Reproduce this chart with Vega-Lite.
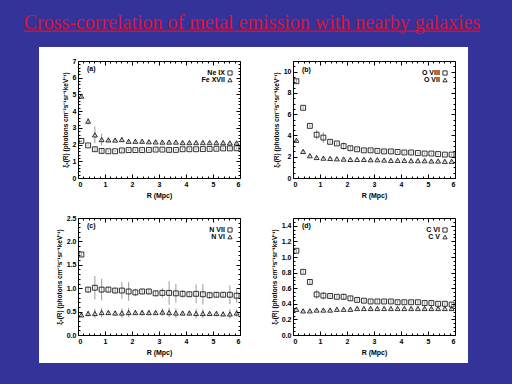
{
"$schema": "https://vega.github.io/schema/vega-lite/v6.json",
"background": "#333399",
"padding": {"left": 23, "top": 0, "right": 33, "bottom": 21},
"bounds": "flush",
"spacing": 27,
"config": {
  "view": {"stroke": "black", "strokeWidth": 1},
  "axis": {"grid": false, "domain": false, "tickColor": "black", "tickWidth": 1, "tickSize": -4,
    "labelColor": "black", "labelFont": "Liberation Sans", "labelFontSize": 7, "labelFontWeight": "bold", "labelPadding": 6,
    "labelOverlap": false, "titleFont": "Liberation Sans", "titleFontSize": 7, "titleFontWeight": "bold", "titleColor": "black"},
  "text": {"font": "Liberation Sans", "fontSize": 7, "fontWeight": "bold", "color": "black"},
  "point": {"stroke": "black", "fill": "transparent"}
},
"datasets": {
"a": [
{"r":0.125,"v":2.22,"e":0.06,"ion":"Ne IX"},{"r":0.375,"v":1.95,"e":0.06,"ion":"Ne IX"},{"r":0.625,"v":1.72,"e":0.12,"ion":"Ne IX"},{"r":0.875,"v":1.62,"e":0.12,"ion":"Ne IX"},
{"r":1.125,"v":1.6,"e":0.06,"ion":"Ne IX"},{"r":1.375,"v":1.6,"e":0.06,"ion":"Ne IX"},{"r":1.625,"v":1.65,"e":0.1,"ion":"Ne IX"},{"r":1.875,"v":1.67,"e":0.06,"ion":"Ne IX"},
{"r":2.125,"v":1.67,"e":0.06,"ion":"Ne IX"},{"r":2.375,"v":1.67,"e":0.06,"ion":"Ne IX"},{"r":2.625,"v":1.68,"e":0.06,"ion":"Ne IX"},{"r":2.875,"v":1.7,"e":0.06,"ion":"Ne IX"},
{"r":3.125,"v":1.7,"e":0.06,"ion":"Ne IX"},{"r":3.375,"v":1.68,"e":0.12,"ion":"Ne IX"},{"r":3.625,"v":1.68,"e":0.06,"ion":"Ne IX"},{"r":3.875,"v":1.72,"e":0.06,"ion":"Ne IX"},
{"r":4.125,"v":1.72,"e":0.06,"ion":"Ne IX"},{"r":4.375,"v":1.72,"e":0.06,"ion":"Ne IX"},{"r":4.625,"v":1.73,"e":0.06,"ion":"Ne IX"},{"r":4.875,"v":1.74,"e":0.06,"ion":"Ne IX"},
{"r":5.125,"v":1.75,"e":0.06,"ion":"Ne IX"},{"r":5.375,"v":1.77,"e":0.06,"ion":"Ne IX"},{"r":5.625,"v":1.77,"e":0.06,"ion":"Ne IX"},{"r":5.875,"v":1.78,"e":0.06,"ion":"Ne IX"},
{"r":0.125,"v":4.9,"e":0.12,"ion":"Fe XVII"},{"r":0.375,"v":3.4,"e":0.2,"ion":"Fe XVII"},{"r":0.625,"v":2.58,"e":0.5,"ion":"Fe XVII"},{"r":0.875,"v":2.3,"e":0.35,"ion":"Fe XVII"},
{"r":1.125,"v":2.28,"e":0.12,"ion":"Fe XVII"},{"r":1.375,"v":2.27,"e":0.1,"ion":"Fe XVII"},{"r":1.625,"v":2.3,"e":0.15,"ion":"Fe XVII"},{"r":1.875,"v":2.2,"e":0.1,"ion":"Fe XVII"},
{"r":2.125,"v":2.2,"e":0.1,"ion":"Fe XVII"},{"r":2.375,"v":2.2,"e":0.1,"ion":"Fe XVII"},{"r":2.625,"v":2.17,"e":0.1,"ion":"Fe XVII"},{"r":2.875,"v":2.16,"e":0.1,"ion":"Fe XVII"},
{"r":3.125,"v":2.15,"e":0.1,"ion":"Fe XVII"},{"r":3.375,"v":2.15,"e":0.1,"ion":"Fe XVII"},{"r":3.625,"v":2.15,"e":0.08,"ion":"Fe XVII"},{"r":3.875,"v":2.12,"e":0.08,"ion":"Fe XVII"},
{"r":4.125,"v":2.12,"e":0.08,"ion":"Fe XVII"},{"r":4.375,"v":2.12,"e":0.08,"ion":"Fe XVII"},{"r":4.625,"v":2.12,"e":0.08,"ion":"Fe XVII"},{"r":4.875,"v":2.12,"e":0.08,"ion":"Fe XVII"},
{"r":5.125,"v":2.12,"e":0.08,"ion":"Fe XVII"},{"r":5.375,"v":2.12,"e":0.08,"ion":"Fe XVII"},{"r":5.625,"v":2.1,"e":0.08,"ion":"Fe XVII"},{"r":5.875,"v":2.1,"e":0.08,"ion":"Fe XVII"}
],
"b": [
{"r":0.125,"v":9.1,"e":0.2,"ion":"O VIII"},{"r":0.375,"v":6.6,"e":0.15,"ion":"O VIII"},{"r":0.625,"v":4.9,"e":0.15,"ion":"O VIII"},{"r":0.875,"v":4.07,"e":0.45,"ion":"O VIII"},
{"r":1.125,"v":3.8,"e":0.5,"ion":"O VIII"},{"r":1.375,"v":3.4,"e":0.15,"ion":"O VIII"},{"r":1.625,"v":3.25,"e":0.15,"ion":"O VIII"},{"r":1.875,"v":3.0,"e":0.35,"ion":"O VIII"},
{"r":2.125,"v":2.8,"e":0.2,"ion":"O VIII"},{"r":2.375,"v":2.7,"e":0.12,"ion":"O VIII"},{"r":2.625,"v":2.6,"e":0.12,"ion":"O VIII"},{"r":2.875,"v":2.6,"e":0.12,"ion":"O VIII"},
{"r":3.125,"v":2.55,"e":0.12,"ion":"O VIII"},{"r":3.375,"v":2.5,"e":0.12,"ion":"O VIII"},{"r":3.625,"v":2.5,"e":0.12,"ion":"O VIII"},{"r":3.875,"v":2.45,"e":0.1,"ion":"O VIII"},
{"r":4.125,"v":2.4,"e":0.1,"ion":"O VIII"},{"r":4.375,"v":2.4,"e":0.1,"ion":"O VIII"},{"r":4.625,"v":2.35,"e":0.1,"ion":"O VIII"},{"r":4.875,"v":2.3,"e":0.1,"ion":"O VIII"},
{"r":5.125,"v":2.3,"e":0.1,"ion":"O VIII"},{"r":5.375,"v":2.25,"e":0.1,"ion":"O VIII"},{"r":5.625,"v":2.2,"e":0.1,"ion":"O VIII"},{"r":5.875,"v":2.2,"e":0.1,"ion":"O VIII"},
{"r":0.125,"v":3.55,"e":0.15,"ion":"O VII"},{"r":0.375,"v":2.5,"e":0.12,"ion":"O VII"},{"r":0.625,"v":2.1,"e":0.1,"ion":"O VII"},{"r":0.875,"v":1.93,"e":0.12,"ion":"O VII"},
{"r":1.125,"v":1.87,"e":0.1,"ion":"O VII"},{"r":1.375,"v":1.84,"e":0.08,"ion":"O VII"},{"r":1.625,"v":1.81,"e":0.08,"ion":"O VII"},{"r":1.875,"v":1.78,"e":0.08,"ion":"O VII"},
{"r":2.125,"v":1.75,"e":0.08,"ion":"O VII"},{"r":2.375,"v":1.75,"e":0.08,"ion":"O VII"},{"r":2.625,"v":1.75,"e":0.08,"ion":"O VII"},{"r":2.875,"v":1.72,"e":0.08,"ion":"O VII"},
{"r":3.125,"v":1.72,"e":0.08,"ion":"O VII"},{"r":3.375,"v":1.69,"e":0.08,"ion":"O VII"},{"r":3.625,"v":1.66,"e":0.08,"ion":"O VII"},{"r":3.875,"v":1.66,"e":0.08,"ion":"O VII"},
{"r":4.125,"v":1.66,"e":0.08,"ion":"O VII"},{"r":4.375,"v":1.63,"e":0.08,"ion":"O VII"},{"r":4.625,"v":1.63,"e":0.08,"ion":"O VII"},{"r":4.875,"v":1.63,"e":0.08,"ion":"O VII"},
{"r":5.125,"v":1.6,"e":0.08,"ion":"O VII"},{"r":5.375,"v":1.6,"e":0.08,"ion":"O VII"},{"r":5.625,"v":1.57,"e":0.08,"ion":"O VII"},{"r":5.875,"v":1.57,"e":0.08,"ion":"O VII"}
],
"c": [
{"r":0.125,"v":1.72,"e":0.04,"ion":"N VII"},{"r":0.375,"v":0.97,"e":0.06,"ion":"N VII"},{"r":0.625,"v":1.01,"e":0.25,"ion":"N VII"},{"r":0.875,"v":0.97,"e":0.23,"ion":"N VII"},
{"r":1.125,"v":0.97,"e":0.06,"ion":"N VII"},{"r":1.375,"v":0.95,"e":0.06,"ion":"N VII"},{"r":1.625,"v":0.95,"e":0.18,"ion":"N VII"},{"r":1.875,"v":0.93,"e":0.2,"ion":"N VII"},
{"r":2.125,"v":0.91,"e":0.08,"ion":"N VII"},{"r":2.375,"v":0.93,"e":0.06,"ion":"N VII"},{"r":2.625,"v":0.93,"e":0.06,"ion":"N VII"},{"r":2.875,"v":0.89,"e":0.06,"ion":"N VII"},
{"r":3.125,"v":0.9,"e":0.1,"ion":"N VII"},{"r":3.375,"v":0.9,"e":0.25,"ion":"N VII"},{"r":3.625,"v":0.89,"e":0.2,"ion":"N VII"},{"r":3.875,"v":0.88,"e":0.08,"ion":"N VII"},
{"r":4.125,"v":0.87,"e":0.06,"ion":"N VII"},{"r":4.375,"v":0.88,"e":0.2,"ion":"N VII"},{"r":4.625,"v":0.87,"e":0.22,"ion":"N VII"},{"r":4.875,"v":0.85,"e":0.08,"ion":"N VII"},
{"r":5.125,"v":0.86,"e":0.06,"ion":"N VII"},{"r":5.375,"v":0.86,"e":0.06,"ion":"N VII"},{"r":5.625,"v":0.86,"e":0.2,"ion":"N VII"},{"r":5.875,"v":0.84,"e":0.15,"ion":"N VII"},
{"r":0.125,"v":0.43,"e":0.04,"ion":"N VI"},{"r":0.375,"v":0.46,"e":0.06,"ion":"N VI"},{"r":0.625,"v":0.46,"e":0.1,"ion":"N VI"},{"r":0.875,"v":0.48,"e":0.1,"ion":"N VI"},
{"r":1.125,"v":0.48,"e":0.05,"ion":"N VI"},{"r":1.375,"v":0.47,"e":0.05,"ion":"N VI"},{"r":1.625,"v":0.47,"e":0.1,"ion":"N VI"},{"r":1.875,"v":0.48,"e":0.1,"ion":"N VI"},
{"r":2.125,"v":0.48,"e":0.05,"ion":"N VI"},{"r":2.375,"v":0.48,"e":0.05,"ion":"N VI"},{"r":2.625,"v":0.48,"e":0.05,"ion":"N VI"},{"r":2.875,"v":0.48,"e":0.05,"ion":"N VI"},
{"r":3.125,"v":0.49,"e":0.08,"ion":"N VI"},{"r":3.375,"v":0.48,"e":0.1,"ion":"N VI"},{"r":3.625,"v":0.47,"e":0.1,"ion":"N VI"},{"r":3.875,"v":0.47,"e":0.05,"ion":"N VI"},
{"r":4.125,"v":0.47,"e":0.05,"ion":"N VI"},{"r":4.375,"v":0.46,"e":0.1,"ion":"N VI"},{"r":4.625,"v":0.46,"e":0.1,"ion":"N VI"},{"r":4.875,"v":0.46,"e":0.05,"ion":"N VI"},
{"r":5.125,"v":0.46,"e":0.05,"ion":"N VI"},{"r":5.375,"v":0.45,"e":0.05,"ion":"N VI"},{"r":5.625,"v":0.45,"e":0.1,"ion":"N VI"},{"r":5.875,"v":0.47,"e":0.08,"ion":"N VI"}
],
"d": [
{"r":0.125,"v":1.08,"e":0.02,"ion":"C VI"},{"r":0.375,"v":0.81,"e":0.02,"ion":"C VI"},{"r":0.625,"v":0.68,"e":0.03,"ion":"C VI"},{"r":0.875,"v":0.52,"e":0.06,"ion":"C VI"},
{"r":1.125,"v":0.505,"e":0.05,"ion":"C VI"},{"r":1.375,"v":0.5,"e":0.02,"ion":"C VI"},{"r":1.625,"v":0.49,"e":0.02,"ion":"C VI"},{"r":1.875,"v":0.49,"e":0.04,"ion":"C VI"},
{"r":2.125,"v":0.47,"e":0.03,"ion":"C VI"},{"r":2.375,"v":0.45,"e":0.02,"ion":"C VI"},{"r":2.625,"v":0.44,"e":0.02,"ion":"C VI"},{"r":2.875,"v":0.43,"e":0.02,"ion":"C VI"},
{"r":3.125,"v":0.43,"e":0.02,"ion":"C VI"},{"r":3.375,"v":0.43,"e":0.02,"ion":"C VI"},{"r":3.625,"v":0.43,"e":0.02,"ion":"C VI"},{"r":3.875,"v":0.42,"e":0.02,"ion":"C VI"},
{"r":4.125,"v":0.42,"e":0.02,"ion":"C VI"},{"r":4.375,"v":0.42,"e":0.02,"ion":"C VI"},{"r":4.625,"v":0.42,"e":0.02,"ion":"C VI"},{"r":4.875,"v":0.41,"e":0.02,"ion":"C VI"},
{"r":5.125,"v":0.41,"e":0.02,"ion":"C VI"},{"r":5.375,"v":0.4,"e":0.02,"ion":"C VI"},{"r":5.625,"v":0.4,"e":0.02,"ion":"C VI"},{"r":5.875,"v":0.39,"e":0.02,"ion":"C VI"},
{"r":0.125,"v":0.33,"e":0.015,"ion":"C V"},{"r":0.375,"v":0.31,"e":0.015,"ion":"C V"},{"r":0.625,"v":0.31,"e":0.015,"ion":"C V"},{"r":0.875,"v":0.32,"e":0.015,"ion":"C V"},
{"r":1.125,"v":0.32,"e":0.015,"ion":"C V"},{"r":1.375,"v":0.32,"e":0.015,"ion":"C V"},{"r":1.625,"v":0.33,"e":0.015,"ion":"C V"},{"r":1.875,"v":0.33,"e":0.015,"ion":"C V"},
{"r":2.125,"v":0.33,"e":0.015,"ion":"C V"},{"r":2.375,"v":0.34,"e":0.015,"ion":"C V"},{"r":2.625,"v":0.34,"e":0.015,"ion":"C V"},{"r":2.875,"v":0.34,"e":0.015,"ion":"C V"},
{"r":3.125,"v":0.34,"e":0.015,"ion":"C V"},{"r":3.375,"v":0.34,"e":0.015,"ion":"C V"},{"r":3.625,"v":0.34,"e":0.015,"ion":"C V"},{"r":3.875,"v":0.34,"e":0.015,"ion":"C V"},
{"r":4.125,"v":0.34,"e":0.015,"ion":"C V"},{"r":4.375,"v":0.34,"e":0.015,"ion":"C V"},{"r":4.625,"v":0.34,"e":0.015,"ion":"C V"},{"r":4.875,"v":0.34,"e":0.015,"ion":"C V"},
{"r":5.125,"v":0.34,"e":0.015,"ion":"C V"},{"r":5.375,"v":0.34,"e":0.015,"ion":"C V"},{"r":5.625,"v":0.34,"e":0.015,"ion":"C V"},{"r":5.875,"v":0.34,"e":0.015,"ion":"C V"}
]
},
"vconcat": [
{
  "width": 377, "height": 34,
  "view": {"stroke": null},
  "data": {"values": [{}]},
  "layer": [
    {"mark": {"type": "rect", "fill": "white"},
     "encoding": {
       "x": {"datum": -0.1034, "type": "quantitative", "scale": {"domain": [0, 1], "nice": false}, "axis": null},
       "x2": {"datum": 1.0345},
       "y": {"datum": -0.382, "type": "quantitative", "scale": {"domain": [0, 1], "nice": false}, "axis": null},
       "y2": {"datum": -9.676}}},
    {"mark": {"type": "text", "font": "Liberation Serif", "fontSize": 20, "fontWeight": "normal", "color": "#dc1237", "align": "center", "baseline": "alphabetic"},
     "encoding": {
       "x": {"datum": 0.4615, "type": "quantitative", "scale": {"domain": [0, 1], "nice": false}, "axis": null},
       "y": {"datum": 0.156, "type": "quantitative", "scale": {"domain": [0, 1], "nice": false}, "axis": null},
       "text": {"value": "Cross-correlation of metal emission with nearby galaxies"}}},
    {"mark": {"type": "rule", "color": "#dc1237", "strokeWidth": 1.3},
     "encoding": {
       "x": {"datum": -0.1432, "type": "quantitative", "scale": {"domain": [0, 1], "nice": false}, "axis": null},
       "x2": {"datum": 1.0663},
       "y": {"datum": 0.085, "type": "quantitative", "scale": {"domain": [0, 1], "nice": false}, "axis": null}}}
  ]
},
{
  "columns": 2,
  "bounds": "flush",
  "spacing": {"row": 40, "column": 53},
  "concat": [
  {
    "width": 162, "height": 117,
    "data": {"name": "a"},
    "resolve": {"axis": {"x": "independent", "y": "independent"}},
    "layer": [
      {"mark": {"type": "errorbar", "color": "#9a9a9a", "thickness": 1},
       "encoding": {
         "x": {"field": "r", "type": "quantitative", "scale": {"domain": [0, 6], "nice": false}, "axis": null},
         "y": {"field": "v", "type": "quantitative", "scale": {"domain": [0, 7], "nice": false}, "axis": null},
         "yError": {"field": "e"}}},
      {"mark": {"type": "point", "opacity": 0},
       "encoding": {
         "x": {"field": "r", "type": "quantitative", "scale": {"domain": [0, 6], "nice": false}, "axis": {"orient": "top", "labels": false, "title": null, "values": [0, 1, 2, 3, 4, 5, 6]}},
         "y": {"field": "v", "type": "quantitative", "scale": {"domain": [0, 7], "nice": false}, "axis": {"orient": "right", "labels": false, "title": null, "values": [0, 1, 2, 3, 4, 5, 6, 7]}}}},
      {"mark": {"type": "point", "opacity": 0},
       "encoding": {
         "x": {"field": "r", "type": "quantitative", "scale": {"domain": [0, 6], "nice": false}, "axis": {"orient": "bottom", "labels": false, "title": null, "tickSize": -2, "values": [0.2,0.4,0.6,0.8,1.2,1.4,1.6,1.8,2.2,2.4,2.6,2.8,3.2,3.4,3.6,3.8,4.2,4.4,4.6,4.8,5.2,5.4,5.6,5.8]}},
         "y": {"field": "v", "type": "quantitative", "scale": {"domain": [0, 7], "nice": false}, "axis": {"orient": "left", "labels": false, "title": null, "tickSize": -2, "values": [0.2,0.4,0.6,0.8,1.2,1.4,1.6,1.8,2.2,2.4,2.6,2.8,3.2,3.4,3.6,3.8,4.2,4.4,4.6,4.8,5.2,5.4,5.6,5.8,6.2,6.4,6.6,6.8]}}}},
      {"mark": {"type": "point", "opacity": 0},
       "encoding": {
         "x": {"field": "r", "type": "quantitative", "scale": {"domain": [0, 6], "nice": false}, "axis": {"orient": "top", "labels": false, "title": null, "tickSize": -2, "values": [0.2,0.4,0.6,0.8,1.2,1.4,1.6,1.8,2.2,2.4,2.6,2.8,3.2,3.4,3.6,3.8,4.2,4.4,4.6,4.8,5.2,5.4,5.6,5.8]}},
         "y": {"field": "v", "type": "quantitative", "scale": {"domain": [0, 7], "nice": false}, "axis": {"orient": "right", "labels": false, "title": null, "tickSize": -2, "values": [0.2,0.4,0.6,0.8,1.2,1.4,1.6,1.8,2.2,2.4,2.6,2.8,3.2,3.4,3.6,3.8,4.2,4.4,4.6,4.8,5.2,5.4,5.6,5.8,6.2,6.4,6.6,6.8]}}}},
      {"mark": {"type": "point", "filled": false, "color": "black", "stroke": "black", "strokeWidth": 0.8, "size": 24, "opacity": 1},
       "encoding": {
         "x": {"field": "r", "type": "quantitative", "scale": {"domain": [0, 6], "nice": false}, "axis": {"title": "R (Mpc)", "values": [0, 1, 2, 3, 4, 5, 6]}},
         "y": {"field": "v", "type": "quantitative", "scale": {"domain": [0, 7], "nice": false}, "axis": {"title": "ξₓ(R) (photons cm⁻²s⁻¹sr⁻¹keV⁻¹)", "titleFontSize": 6.5, "values": [0, 1, 2, 3, 4, 5, 6, 7]}},
         "shape": {"field": "ion", "type": "nominal", "scale": {"domain": ["Ne IX", "Fe XVII"], "range": ["square", "triangle-up"]}, "legend": null}}},
      {"data": {"values": [{}]}, "mark": {"type": "text", "align": "left", "baseline": "middle"},
       "encoding": {
         "x": {"datum": 0.33, "type": "quantitative", "scale": {"domain": [0, 6], "nice": false}, "axis": null},
         "y": {"datum": 6.52, "type": "quantitative", "scale": {"domain": [0, 7], "nice": false}, "axis": null},
         "text": {"value": "(a)"}}},
      {"data": {"values": [{}]}, "mark": {"type": "text", "align": "right", "baseline": "middle"},
       "encoding": {
         "x": {"datum": 5.44, "type": "quantitative", "scale": {"domain": [0, 6], "nice": false}, "axis": null},
         "y": {"datum": 6.282, "type": "quantitative", "scale": {"domain": [0, 7], "nice": false}, "axis": null},
         "text": {"value": "Ne IX"}}},
      {"data": {"values": [{}]}, "mark": {"type": "text", "align": "right", "baseline": "middle"},
       "encoding": {
         "x": {"datum": 5.44, "type": "quantitative", "scale": {"domain": [0, 6], "nice": false}, "axis": null},
         "y": {"datum": 5.863, "type": "quantitative", "scale": {"domain": [0, 7], "nice": false}, "axis": null},
         "text": {"value": "Fe XVII"}}},
      {"data": {"values": [{}]}, "mark": {"type": "point", "shape": "square", "filled": false, "color": "black", "stroke": "black", "fill": "transparent", "strokeWidth": 0.8, "size": 18, "opacity": 1},
       "encoding": {
         "x": {"datum": 5.63, "type": "quantitative", "scale": {"domain": [0, 6], "nice": false}, "axis": null},
         "y": {"datum": 6.282, "type": "quantitative", "scale": {"domain": [0, 7], "nice": false}, "axis": null}}},
      {"data": {"values": [{}]}, "mark": {"type": "point", "shape": "triangle-up", "filled": false, "color": "black", "stroke": "black", "fill": "transparent", "strokeWidth": 0.8, "size": 18, "opacity": 1},
       "encoding": {
         "x": {"datum": 5.63, "type": "quantitative", "scale": {"domain": [0, 6], "nice": false}, "axis": null},
         "y": {"datum": 5.863, "type": "quantitative", "scale": {"domain": [0, 7], "nice": false}, "axis": null}}}
    ]
  },
  {
    "width": 162, "height": 117,
    "data": {"name": "b"},
    "resolve": {"axis": {"x": "independent", "y": "independent"}},
    "layer": [
      {"mark": {"type": "errorbar", "color": "#9a9a9a", "thickness": 1},
       "encoding": {
         "x": {"field": "r", "type": "quantitative", "scale": {"domain": [0, 6], "nice": false}, "axis": null},
         "y": {"field": "v", "type": "quantitative", "scale": {"domain": [0, 11], "nice": false}, "axis": null},
         "yError": {"field": "e"}}},
      {"mark": {"type": "point", "opacity": 0},
       "encoding": {
         "x": {"field": "r", "type": "quantitative", "scale": {"domain": [0, 6], "nice": false}, "axis": {"orient": "top", "labels": false, "title": null, "values": [0, 1, 2, 3, 4, 5, 6]}},
         "y": {"field": "v", "type": "quantitative", "scale": {"domain": [0, 11], "nice": false}, "axis": {"orient": "right", "labels": false, "title": null, "values": [0, 2, 4, 6, 8, 10]}}}},
      {"mark": {"type": "point", "opacity": 0},
       "encoding": {
         "x": {"field": "r", "type": "quantitative", "scale": {"domain": [0, 6], "nice": false}, "axis": {"orient": "bottom", "labels": false, "title": null, "tickSize": -2, "values": [0.2,0.4,0.6,0.8,1.2,1.4,1.6,1.8,2.2,2.4,2.6,2.8,3.2,3.4,3.6,3.8,4.2,4.4,4.6,4.8,5.2,5.4,5.6,5.8]}},
         "y": {"field": "v", "type": "quantitative", "scale": {"domain": [0, 11], "nice": false}, "axis": {"orient": "left", "labels": false, "title": null, "tickSize": -2, "values": [0.5,1,1.5,2.5,3,3.5,4.5,5,5.5,6.5,7,7.5,8.5,9,9.5,10.5]}}}},
      {"mark": {"type": "point", "opacity": 0},
       "encoding": {
         "x": {"field": "r", "type": "quantitative", "scale": {"domain": [0, 6], "nice": false}, "axis": {"orient": "top", "labels": false, "title": null, "tickSize": -2, "values": [0.2,0.4,0.6,0.8,1.2,1.4,1.6,1.8,2.2,2.4,2.6,2.8,3.2,3.4,3.6,3.8,4.2,4.4,4.6,4.8,5.2,5.4,5.6,5.8]}},
         "y": {"field": "v", "type": "quantitative", "scale": {"domain": [0, 11], "nice": false}, "axis": {"orient": "right", "labels": false, "title": null, "tickSize": -2, "values": [0.5,1,1.5,2.5,3,3.5,4.5,5,5.5,6.5,7,7.5,8.5,9,9.5,10.5]}}}},
      {"mark": {"type": "point", "filled": false, "color": "black", "stroke": "black", "strokeWidth": 0.8, "size": 24, "opacity": 1},
       "encoding": {
         "x": {"field": "r", "type": "quantitative", "scale": {"domain": [0, 6], "nice": false}, "axis": {"title": "R (Mpc)", "values": [0, 1, 2, 3, 4, 5, 6]}},
         "y": {"field": "v", "type": "quantitative", "scale": {"domain": [0, 11], "nice": false}, "axis": {"title": "ξₓ(R) (photons cm⁻²s⁻¹sr⁻¹keV⁻¹)", "titleFontSize": 6.5, "values": [0, 2, 4, 6, 8, 10]}},
         "shape": {"field": "ion", "type": "nominal", "scale": {"domain": ["O VIII", "O VII"], "range": ["square", "triangle-up"]}, "legend": null}}},
      {"data": {"values": [{}]}, "mark": {"type": "text", "align": "left", "baseline": "middle"},
       "encoding": {
         "x": {"datum": 0.33, "type": "quantitative", "scale": {"domain": [0, 6], "nice": false}, "axis": null},
         "y": {"datum": 10.15, "type": "quantitative", "scale": {"domain": [0, 11], "nice": false}, "axis": null},
         "text": {"value": "(b)"}}},
      {"data": {"values": [{}]}, "mark": {"type": "text", "align": "right", "baseline": "middle"},
       "encoding": {
         "x": {"datum": 5.44, "type": "quantitative", "scale": {"domain": [0, 6], "nice": false}, "axis": null},
         "y": {"datum": 9.872, "type": "quantitative", "scale": {"domain": [0, 11], "nice": false}, "axis": null},
         "text": {"value": "O VIII"}}},
      {"data": {"values": [{}]}, "mark": {"type": "text", "align": "right", "baseline": "middle"},
       "encoding": {
         "x": {"datum": 5.44, "type": "quantitative", "scale": {"domain": [0, 6], "nice": false}, "axis": null},
         "y": {"datum": 9.214, "type": "quantitative", "scale": {"domain": [0, 11], "nice": false}, "axis": null},
         "text": {"value": "O VII"}}},
      {"data": {"values": [{}]}, "mark": {"type": "point", "shape": "square", "filled": false, "color": "black", "stroke": "black", "fill": "transparent", "strokeWidth": 0.8, "size": 18, "opacity": 1},
       "encoding": {
         "x": {"datum": 5.63, "type": "quantitative", "scale": {"domain": [0, 6], "nice": false}, "axis": null},
         "y": {"datum": 9.872, "type": "quantitative", "scale": {"domain": [0, 11], "nice": false}, "axis": null}}},
      {"data": {"values": [{}]}, "mark": {"type": "point", "shape": "triangle-up", "filled": false, "color": "black", "stroke": "black", "fill": "transparent", "strokeWidth": 0.8, "size": 18, "opacity": 1},
       "encoding": {
         "x": {"datum": 5.63, "type": "quantitative", "scale": {"domain": [0, 6], "nice": false}, "axis": null},
         "y": {"datum": 9.214, "type": "quantitative", "scale": {"domain": [0, 11], "nice": false}, "axis": null}}}
    ]
  },
  {
    "width": 162, "height": 117,
    "data": {"name": "c"},
    "resolve": {"axis": {"x": "independent", "y": "independent"}},
    "layer": [
      {"mark": {"type": "errorbar", "color": "#9a9a9a", "thickness": 1},
       "encoding": {
         "x": {"field": "r", "type": "quantitative", "scale": {"domain": [0, 6], "nice": false}, "axis": null},
         "y": {"field": "v", "type": "quantitative", "scale": {"domain": [0, 2.5], "nice": false}, "axis": null},
         "yError": {"field": "e"}}},
      {"mark": {"type": "point", "opacity": 0},
       "encoding": {
         "x": {"field": "r", "type": "quantitative", "scale": {"domain": [0, 6], "nice": false}, "axis": {"orient": "top", "labels": false, "title": null, "values": [0, 1, 2, 3, 4, 5, 6]}},
         "y": {"field": "v", "type": "quantitative", "scale": {"domain": [0, 2.5], "nice": false}, "axis": {"orient": "right", "labels": false, "title": null, "values": [0, 0.5, 1, 1.5, 2, 2.5]}}}},
      {"mark": {"type": "point", "opacity": 0},
       "encoding": {
         "x": {"field": "r", "type": "quantitative", "scale": {"domain": [0, 6], "nice": false}, "axis": {"orient": "bottom", "labels": false, "title": null, "tickSize": -2, "values": [0.2,0.4,0.6,0.8,1.2,1.4,1.6,1.8,2.2,2.4,2.6,2.8,3.2,3.4,3.6,3.8,4.2,4.4,4.6,4.8,5.2,5.4,5.6,5.8]}},
         "y": {"field": "v", "type": "quantitative", "scale": {"domain": [0, 2.5], "nice": false}, "axis": {"orient": "left", "labels": false, "title": null, "tickSize": -2, "values": [0.1,0.2,0.3,0.4,0.6,0.7,0.8,0.9,1.1,1.2,1.3,1.4,1.6,1.7,1.8,1.9,2.1,2.2,2.3,2.4]}}}},
      {"mark": {"type": "point", "opacity": 0},
       "encoding": {
         "x": {"field": "r", "type": "quantitative", "scale": {"domain": [0, 6], "nice": false}, "axis": {"orient": "top", "labels": false, "title": null, "tickSize": -2, "values": [0.2,0.4,0.6,0.8,1.2,1.4,1.6,1.8,2.2,2.4,2.6,2.8,3.2,3.4,3.6,3.8,4.2,4.4,4.6,4.8,5.2,5.4,5.6,5.8]}},
         "y": {"field": "v", "type": "quantitative", "scale": {"domain": [0, 2.5], "nice": false}, "axis": {"orient": "right", "labels": false, "title": null, "tickSize": -2, "values": [0.1,0.2,0.3,0.4,0.6,0.7,0.8,0.9,1.1,1.2,1.3,1.4,1.6,1.7,1.8,1.9,2.1,2.2,2.3,2.4]}}}},
      {"mark": {"type": "point", "filled": false, "color": "black", "stroke": "black", "strokeWidth": 0.8, "size": 24, "opacity": 1},
       "encoding": {
         "x": {"field": "r", "type": "quantitative", "scale": {"domain": [0, 6], "nice": false}, "axis": {"title": "R (Mpc)", "values": [0, 1, 2, 3, 4, 5, 6]}},
         "y": {"field": "v", "type": "quantitative", "scale": {"domain": [0, 2.5], "nice": false}, "axis": {"title": "ξₓ(R) (photons cm⁻²s⁻¹sr⁻¹keV⁻¹)", "titleFontSize": 6.5, "format": ".1f", "values": [0, 0.5, 1, 1.5, 2, 2.5]}},
         "shape": {"field": "ion", "type": "nominal", "scale": {"domain": ["N VII", "N VI"], "range": ["square", "triangle-up"]}, "legend": null}}},
      {"data": {"values": [{}]}, "mark": {"type": "text", "align": "left", "baseline": "middle"},
       "encoding": {
         "x": {"datum": 0.33, "type": "quantitative", "scale": {"domain": [0, 6], "nice": false}, "axis": null},
         "y": {"datum": 2.329, "type": "quantitative", "scale": {"domain": [0, 2.5], "nice": false}, "axis": null},
         "text": {"value": "(c)"}}},
      {"data": {"values": [{}]}, "mark": {"type": "text", "align": "right", "baseline": "middle"},
       "encoding": {
         "x": {"datum": 5.44, "type": "quantitative", "scale": {"domain": [0, 6], "nice": false}, "axis": null},
         "y": {"datum": 2.244, "type": "quantitative", "scale": {"domain": [0, 2.5], "nice": false}, "axis": null},
         "text": {"value": "N VII"}}},
      {"data": {"values": [{}]}, "mark": {"type": "text", "align": "right", "baseline": "middle"},
       "encoding": {
         "x": {"datum": 5.44, "type": "quantitative", "scale": {"domain": [0, 6], "nice": false}, "axis": null},
         "y": {"datum": 2.094, "type": "quantitative", "scale": {"domain": [0, 2.5], "nice": false}, "axis": null},
         "text": {"value": "N VI"}}},
      {"data": {"values": [{}]}, "mark": {"type": "point", "shape": "square", "filled": false, "color": "black", "stroke": "black", "fill": "transparent", "strokeWidth": 0.8, "size": 18, "opacity": 1},
       "encoding": {
         "x": {"datum": 5.63, "type": "quantitative", "scale": {"domain": [0, 6], "nice": false}, "axis": null},
         "y": {"datum": 2.244, "type": "quantitative", "scale": {"domain": [0, 2.5], "nice": false}, "axis": null}}},
      {"data": {"values": [{}]}, "mark": {"type": "point", "shape": "triangle-up", "filled": false, "color": "black", "stroke": "black", "fill": "transparent", "strokeWidth": 0.8, "size": 18, "opacity": 1},
       "encoding": {
         "x": {"datum": 5.63, "type": "quantitative", "scale": {"domain": [0, 6], "nice": false}, "axis": null},
         "y": {"datum": 2.094, "type": "quantitative", "scale": {"domain": [0, 2.5], "nice": false}, "axis": null}}}
    ]
  },
  {
    "width": 162, "height": 117,
    "data": {"name": "d"},
    "resolve": {"axis": {"x": "independent", "y": "independent"}},
    "layer": [
      {"mark": {"type": "errorbar", "color": "#9a9a9a", "thickness": 1},
       "encoding": {
         "x": {"field": "r", "type": "quantitative", "scale": {"domain": [0, 6], "nice": false}, "axis": null},
         "y": {"field": "v", "type": "quantitative", "scale": {"domain": [0, 1.5], "nice": false}, "axis": null},
         "yError": {"field": "e"}}},
      {"mark": {"type": "point", "opacity": 0},
       "encoding": {
         "x": {"field": "r", "type": "quantitative", "scale": {"domain": [0, 6], "nice": false}, "axis": {"orient": "top", "labels": false, "title": null, "values": [0, 1, 2, 3, 4, 5, 6]}},
         "y": {"field": "v", "type": "quantitative", "scale": {"domain": [0, 1.5], "nice": false}, "axis": {"orient": "right", "labels": false, "title": null, "values": [0, 0.2, 0.4, 0.6, 0.8, 1, 1.2, 1.4]}}}},
      {"mark": {"type": "point", "opacity": 0},
       "encoding": {
         "x": {"field": "r", "type": "quantitative", "scale": {"domain": [0, 6], "nice": false}, "axis": {"orient": "bottom", "labels": false, "title": null, "tickSize": -2, "values": [0.2,0.4,0.6,0.8,1.2,1.4,1.6,1.8,2.2,2.4,2.6,2.8,3.2,3.4,3.6,3.8,4.2,4.4,4.6,4.8,5.2,5.4,5.6,5.8]}},
         "y": {"field": "v", "type": "quantitative", "scale": {"domain": [0, 1.5], "nice": false}, "axis": {"orient": "left", "labels": false, "title": null, "tickSize": -2, "values": [0.05,0.1,0.15,0.25,0.3,0.35,0.45,0.5,0.55,0.65,0.7,0.75,0.85,0.9,0.95,1.05,1.1,1.15,1.25,1.3,1.35,1.45]}}}},
      {"mark": {"type": "point", "opacity": 0},
       "encoding": {
         "x": {"field": "r", "type": "quantitative", "scale": {"domain": [0, 6], "nice": false}, "axis": {"orient": "top", "labels": false, "title": null, "tickSize": -2, "values": [0.2,0.4,0.6,0.8,1.2,1.4,1.6,1.8,2.2,2.4,2.6,2.8,3.2,3.4,3.6,3.8,4.2,4.4,4.6,4.8,5.2,5.4,5.6,5.8]}},
         "y": {"field": "v", "type": "quantitative", "scale": {"domain": [0, 1.5], "nice": false}, "axis": {"orient": "right", "labels": false, "title": null, "tickSize": -2, "values": [0.05,0.1,0.15,0.25,0.3,0.35,0.45,0.5,0.55,0.65,0.7,0.75,0.85,0.9,0.95,1.05,1.1,1.15,1.25,1.3,1.35,1.45]}}}},
      {"mark": {"type": "point", "filled": false, "color": "black", "stroke": "black", "strokeWidth": 0.8, "size": 24, "opacity": 1},
       "encoding": {
         "x": {"field": "r", "type": "quantitative", "scale": {"domain": [0, 6], "nice": false}, "axis": {"title": "R (Mpc)", "values": [0, 1, 2, 3, 4, 5, 6]}},
         "y": {"field": "v", "type": "quantitative", "scale": {"domain": [0, 1.5], "nice": false}, "axis": {"title": "ξₓ(R) (photons cm⁻²s⁻¹sr⁻¹keV⁻¹)", "titleFontSize": 6.5, "format": ".1f", "values": [0, 0.2, 0.4, 0.6, 0.8, 1, 1.2, 1.4]}},
         "shape": {"field": "ion", "type": "nominal", "scale": {"domain": ["C VI", "C V"], "range": ["square", "triangle-up"]}, "legend": null}}},
      {"data": {"values": [{}]}, "mark": {"type": "text", "align": "left", "baseline": "middle"},
       "encoding": {
         "x": {"datum": 0.33, "type": "quantitative", "scale": {"domain": [0, 6], "nice": false}, "axis": null},
         "y": {"datum": 1.397, "type": "quantitative", "scale": {"domain": [0, 1.5], "nice": false}, "axis": null},
         "text": {"value": "(d)"}}},
      {"data": {"values": [{}]}, "mark": {"type": "text", "align": "right", "baseline": "middle"},
       "encoding": {
         "x": {"datum": 5.44, "type": "quantitative", "scale": {"domain": [0, 6], "nice": false}, "axis": null},
         "y": {"datum": 1.346, "type": "quantitative", "scale": {"domain": [0, 1.5], "nice": false}, "axis": null},
         "text": {"value": "C VI"}}},
      {"data": {"values": [{}]}, "mark": {"type": "text", "align": "right", "baseline": "middle"},
       "encoding": {
         "x": {"datum": 5.44, "type": "quantitative", "scale": {"domain": [0, 6], "nice": false}, "axis": null},
         "y": {"datum": 1.256, "type": "quantitative", "scale": {"domain": [0, 1.5], "nice": false}, "axis": null},
         "text": {"value": "C V"}}},
      {"data": {"values": [{}]}, "mark": {"type": "point", "shape": "square", "filled": false, "color": "black", "stroke": "black", "fill": "transparent", "strokeWidth": 0.8, "size": 18, "opacity": 1},
       "encoding": {
         "x": {"datum": 5.63, "type": "quantitative", "scale": {"domain": [0, 6], "nice": false}, "axis": null},
         "y": {"datum": 1.346, "type": "quantitative", "scale": {"domain": [0, 1.5], "nice": false}, "axis": null}}},
      {"data": {"values": [{}]}, "mark": {"type": "point", "shape": "triangle-up", "filled": false, "color": "black", "stroke": "black", "fill": "transparent", "strokeWidth": 0.8, "size": 18, "opacity": 1},
       "encoding": {
         "x": {"datum": 5.63, "type": "quantitative", "scale": {"domain": [0, 6], "nice": false}, "axis": null},
         "y": {"datum": 1.256, "type": "quantitative", "scale": {"domain": [0, 1.5], "nice": false}, "axis": null}}}
    ]
  }
  ]
}
]
}
